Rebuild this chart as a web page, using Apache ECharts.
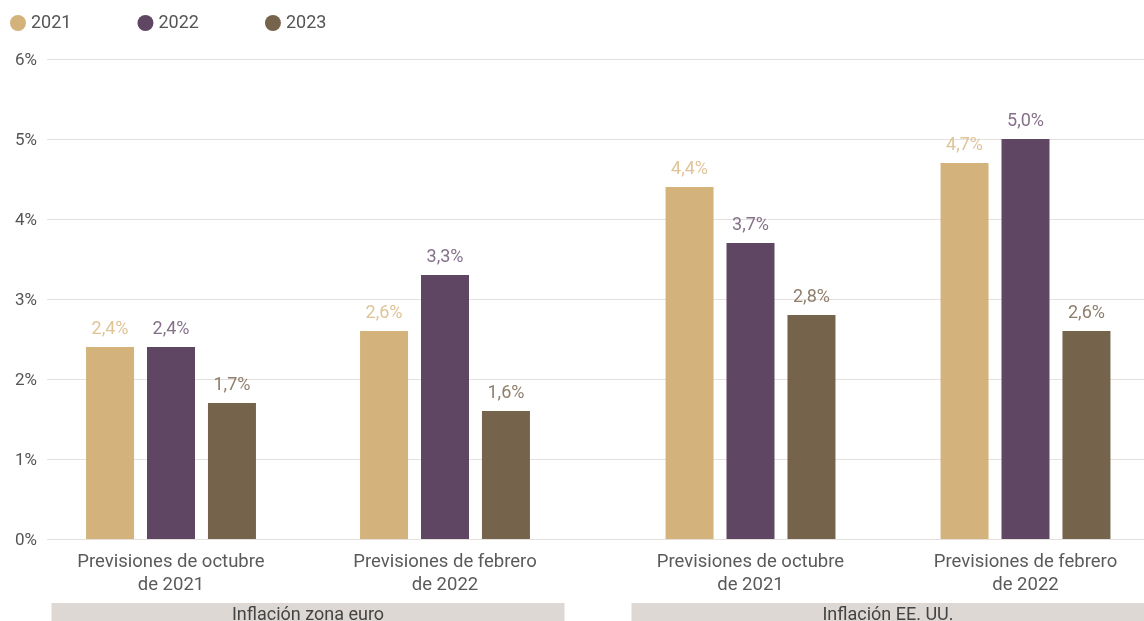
<!DOCTYPE html>
<html>
<head>
<meta charset="utf-8">
<script src="https://cdn.jsdelivr.net/npm/echarts@6/dist/echarts.min.js"></script>
<style>
html,body{margin:0;padding:0;overflow:hidden;background:#fff;width:1144px;height:621px;}
#c{width:1175px;height:621px;}
</style>
</head>
<body>
<div id="c"></div>
<script>
const categories = ['Previsiones de octubre\nde 2021', 'Previsiones de febrero\nde 2022'];
const groups = ['Inflación zona euro', 'Inflación EE. UU.'];
const years = ['2021', '2022', '2023'];
const euro2021 = [2.4, 2.6];
const euro2022 = [2.4, 3.3];
const euro2023 = [1.7, 1.6];
const us2021 = [4.4, 4.7];
const us2022 = [3.7, 5.0];
const us2023 = [2.8, 2.6];
const yMin = 0, yMax = 6, yStep = 1;

const barColors = ['#d3b37b', '#5f4763', '#76634c'];
const labelColors = ['#dec497', '#85708a', '#8e7e6b'];
const font = 'Roboto, "DejaVu Sans", sans-serif';

const euroData = [euro2021, euro2022, euro2023];
const usData = [us2021, us2022, us2023];

function fmt(p) { return p.value.toFixed(1).replace('.', ',') + '%'; }

function makeSeries(dataSets, xi, yi) {
  return years.map((y, i) => ({
    name: y, type: 'bar', xAxisIndex: xi, yAxisIndex: yi,
    data: dataSets[i], barWidth: 48, barGap: '27%',
    itemStyle: { color: barColors[i] },
    label: { show: true, position: 'top', distance: 9, formatter: fmt,
      fontFamily: font, fontSize: 18, color: labelColors[i] }
  }));
}

const catAxis = (gi) => ({
  gridIndex: gi, type: 'category', data: categories, position: 'bottom',
  axisLine: { show: false }, axisTick: { show: false },
  axisLabel: { margin: 12, fontFamily: font, fontSize: 18.5, color: '#5a5a5a', lineHeight: 23, interval: 0 }
});
const groupAxis = (gi, name) => ({
  gridIndex: gi, type: 'category', data: [name], position: 'bottom',
  axisLine: { show: false }, axisTick: { show: false },
  axisLabel: { margin: 64, fontFamily: font, fontSize: 18, color: '#444',
    backgroundColor: '#ddd8d4', width: 513, height: 24, lineHeight: 24,
    align: 'center', verticalAlign: 'top', interval: 0 }
});
const hiddenY = (gi) => ({ gridIndex: gi, type: 'value', min: yMin, max: yMax, interval: yStep, show: false });

const chart = echarts.init(document.getElementById('c'));
chart.setOption({
  animation: false,
  legend: {
    data: years, left: 5, top: 9, icon: 'circle', itemWidth: 16, itemHeight: 16, itemGap: 66,
    textStyle: { fontFamily: font, fontSize: 18, color: '#555' }
  },
  grid: [
    { left: 47, right: 0, top: 59, bottom: 82, outerBoundsMode: 'none', containLabel: false },
    { left: 34, width: 548, top: 59, bottom: 82, outerBoundsMode: 'none', containLabel: false },
    { left: 613, width: 550, top: 59, bottom: 82, outerBoundsMode: 'none', containLabel: false }
  ],
  xAxis: [
    { gridIndex: 0, type: 'category', data: [''], show: false },
    catAxis(1), groupAxis(1, groups[0]),
    catAxis(2), groupAxis(2, groups[1])
  ],
  yAxis: [
    { gridIndex: 0, type: 'value', min: yMin, max: yMax, interval: yStep,
      axisLine: { show: false }, axisTick: { show: false },
      axisLabel: { formatter: '{value}%', margin: 10, fontFamily: font, fontSize: 17, color: '#555', verticalAlign: 'top', padding: [-7, 0, 0, 0] },
      splitLine: { lineStyle: { color: '#e3e0dd', width: 1 } } },
    hiddenY(1), hiddenY(2)
  ],
  series: [].concat(makeSeries(euroData, 1, 1), makeSeries(usData, 3, 2))
});
</script>
</body>
</html>
